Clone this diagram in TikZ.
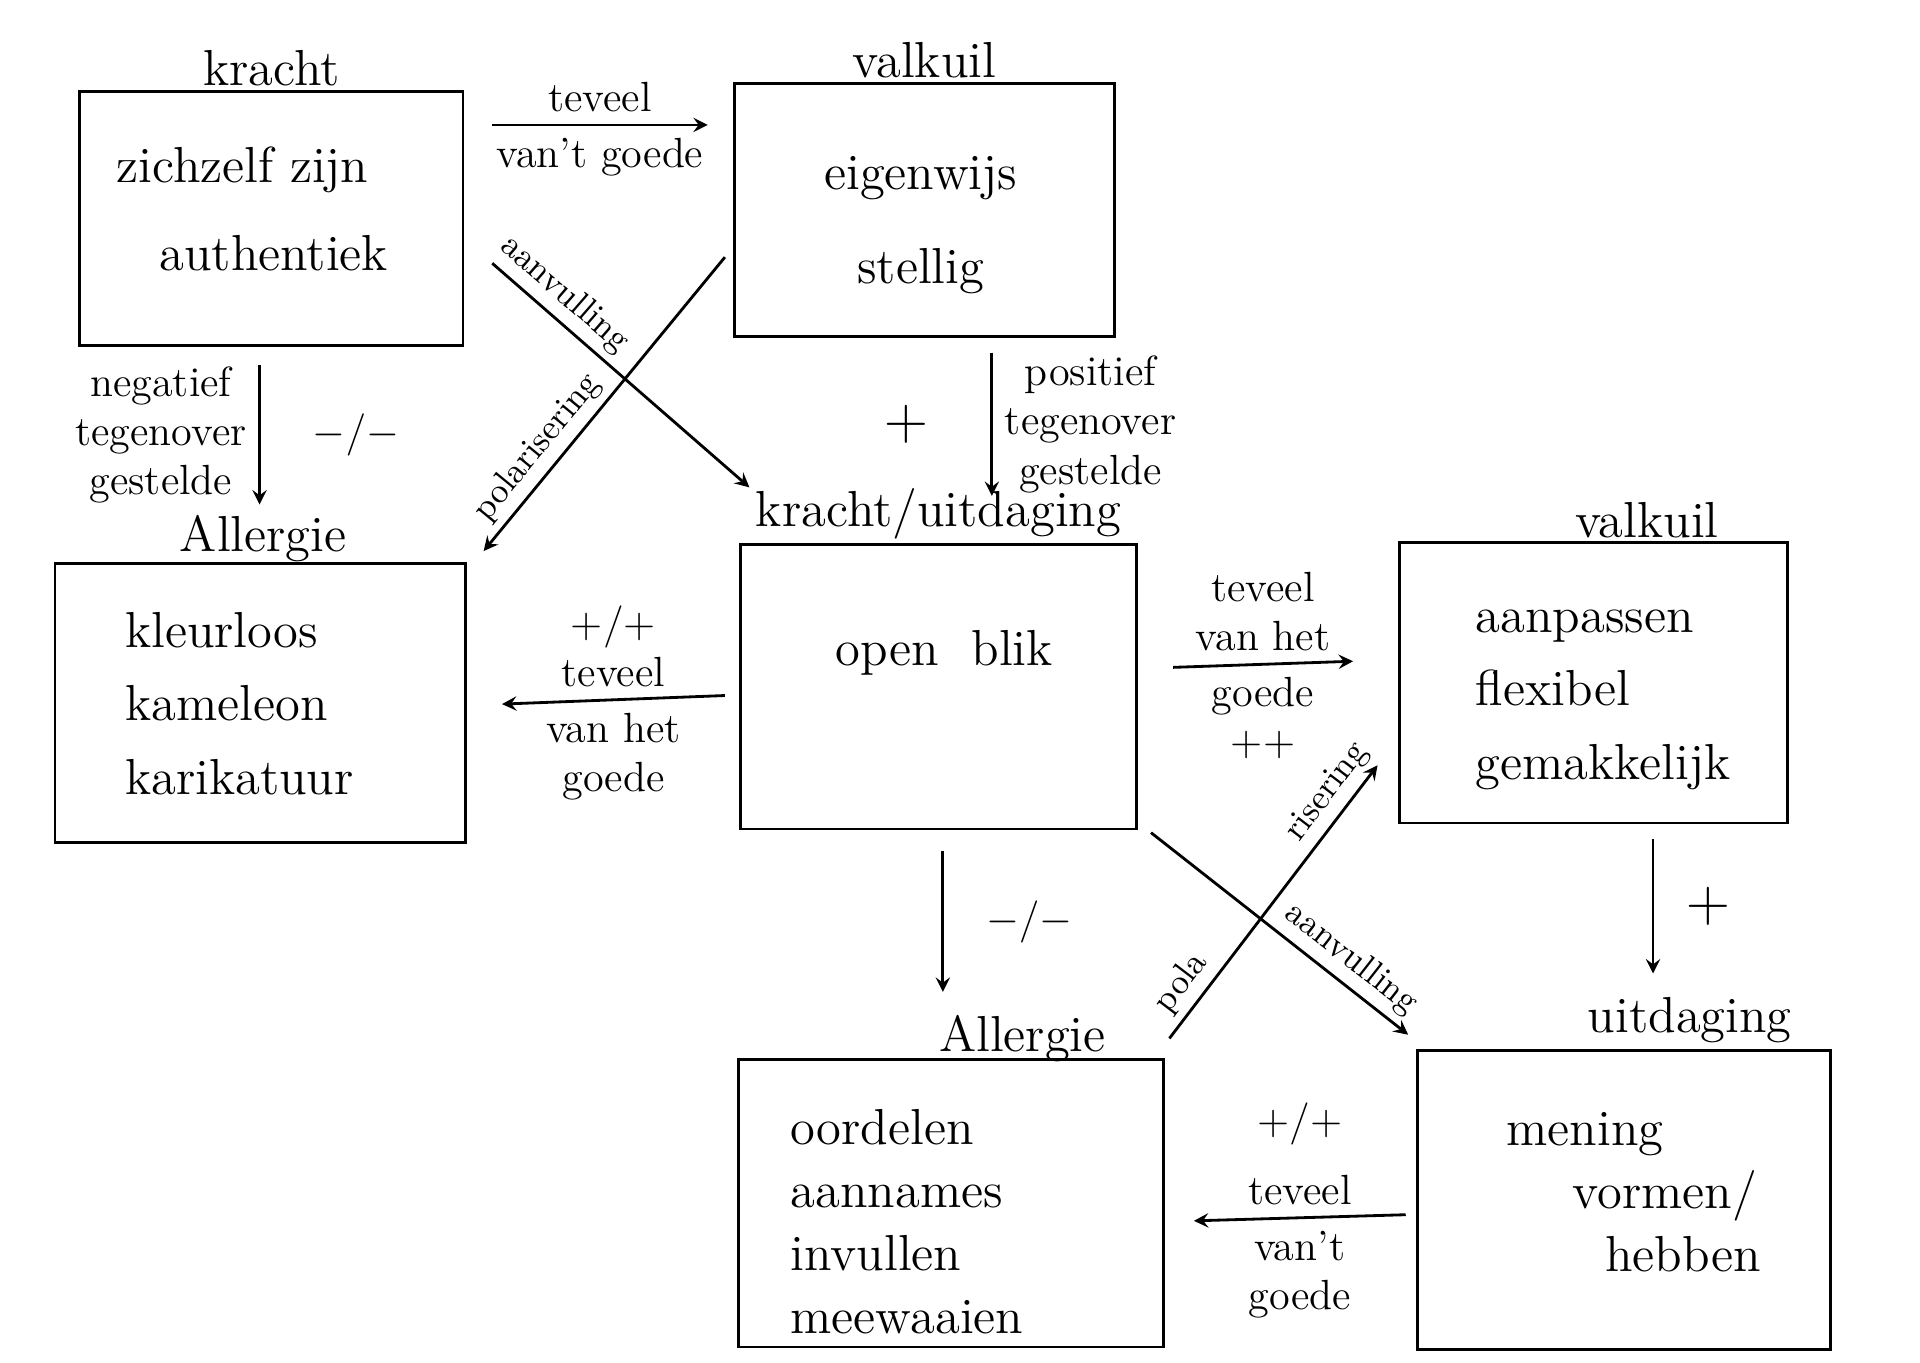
\documentclass[tikz,border=0pt]{standalone}
\usepackage{tikz}
\usetikzlibrary{arrows, calc, positioning}
\tikzstyle{box} = [rectangle, thick, draw=black, inner sep=0pt]
\tikzstyle{title} = [font=\Large, inner sep=1pt]
\tikzstyle{content} = [font=\Large, align=left, anchor=north west]
\tikzstyle{lbl} = [font=\large, align=center]
\tikzstyle{slbl} = [font=\normalsize, sloped, above, inner sep=2pt]
\tikzstyle{arrow} = [thick,->,>=stealth]
\begin{document}
\begin{tikzpicture}[x=0.012245cm, y=-0.012245cm]
		\useasboundingbox (0,0) rectangle (1568,1113);
		% boxes
		\node (Kracht01) [box, minimum width=313*0.12245mm, minimum height=207*0.12245mm] at (221.5,178.5) {};
		\node (Valkuil01) [box, minimum width=310*0.12245mm, minimum height=207*0.12245mm] at (755,171.5) {};
		\node (Allergie01) [box, minimum width=335*0.12245mm, minimum height=228*0.12245mm] at (212.5,574) {};
		\node (Uitdaging01) [box, minimum width=323*0.12245mm, minimum height=232*0.12245mm] at (766.5,561) {};
		\node (Valkuil02) [box, minimum width=317*0.12245mm, minimum height=229*0.12245mm] at (1301.5,557.5) {};
		\node (Allergie02) [box, minimum width=347*0.12245mm, minimum height=235*0.12245mm] at (776.5,982.5) {};
		\node (Uitdaging02) [box, minimum width=337*0.12245mm, minimum height=244*0.12245mm] at (1326.5,980) {};

		% titles
		\node [title, above = 0mm of Kracht01] {kracht};
		\node [title, above = 0mm of Valkuil01] {valkuil};
		\node [title] at (215,440) {Allergie};
		\node [title, above = 0mm of Uitdaging01] {kracht/uitdaging};
		\node [title] at (1345,425) {valkuil};
		\node [title] at (835,848) {Allergie};
		\node [title] at (1380,833) {uitdaging};

		% contents
		\node [content] at (85,110) {zichzelf zijn};
		\node [content] at (120,182) {authentiek};
		\node [content, align=center, anchor=north] at (752,118) {eigenwijs\\[3mm]stellig};
		\node [content] at (92,490) {kleurloos\\[1mm]kameleon\\[1mm]karikatuur};
		\node [content] at (672,505) {open\ \ blik};
		\node [content] at (1195,488) {aanpassen\\[1mm]flexibel\\[1mm]gemakkelijk};
		\node [content, inner sep=0pt] at (645,905) {oordelen\\aannames\\invullen\\meewaaien};
		\node [content] at (1220,898) {mening\\\ \ \ \ vormen/\\\ \ \ \ \ \ hebben};

		% arrow ends
		\coordinate (A1s) at (402,102); \coordinate (A1e) at (578,102);
		\coordinate (A2s) at (212,298); \coordinate (A2e) at (212,412);
		\coordinate (A3s) at (402,215); \coordinate (A3e) at (612,398);
		\coordinate (A4s) at (592,210); \coordinate (A4e) at (395,450);
		\coordinate (A5s) at (810,288); \coordinate (A5e) at (810,405);
		\coordinate (A6s) at (592,568); \coordinate (A6e) at (410,575);
		\coordinate (A7s) at (958,545); \coordinate (A7e) at (1105,540);
		\coordinate (A8s) at (1350,685); \coordinate (A8e) at (1350,795);
		\coordinate (A9s) at (770,695); \coordinate (A9e) at (770,810);
		\coordinate (A10s) at (940,680); \coordinate (A10e) at (1150,845);
		\coordinate (A11s) at (955,848); \coordinate (A11e) at (1125,625);
		\coordinate (A12s) at (1148,992); \coordinate (A12e) at (975,997);

		\draw [arrow] (A1s) -- node[lbl, above]{teveel} node[lbl, below]{van't goede} (A1e);
		\draw [arrow] (A2s) -- node[lbl, left]{negatief\\tegenover\\gestelde} node[lbl, right=4mm]{$-/-$} (A2e);
		\draw [arrow] (A3s) -- node[slbl, pos=0.22]{aanvulling} (A3e);
		\draw [arrow] (A4s) -- node[slbl, pos=0.7]{polarisering} (A4e);
		\draw [arrow] (A5s) -- node[lbl, left=5mm]{\LARGE +} node[lbl, right]{positief\\tegenover\\gestelde} (A5e);
		\draw [arrow] (A6s) -- node[lbl, above]{+/+\\teveel} node[lbl, below]{van het\\goede} (A6e);
		\draw [arrow] (A7s) -- node[lbl, above]{teveel\\van het} node[lbl, below]{goede\\++} (A7e);
		\draw [arrow] (A8s) -- node[lbl, right=2mm]{\LARGE +} (A8e);
		\draw [arrow] (A9s) -- node[lbl, right=3mm]{$-/-$} (A9e);
		\draw [arrow] (A10s) -- node[slbl, pos=0.72]{aanvulling} (A10e);
		\draw [arrow] (A11s) -- node[slbl, pos=0.15]{pola} node[slbl, pos=0.85]{risering} (A11e);
		\draw [arrow] (A12s) -- node[lbl, above]{+/+\\[2mm]teveel} node[lbl, below]{van't\\goede} (A12e);
	\end{tikzpicture}
\end{document}
